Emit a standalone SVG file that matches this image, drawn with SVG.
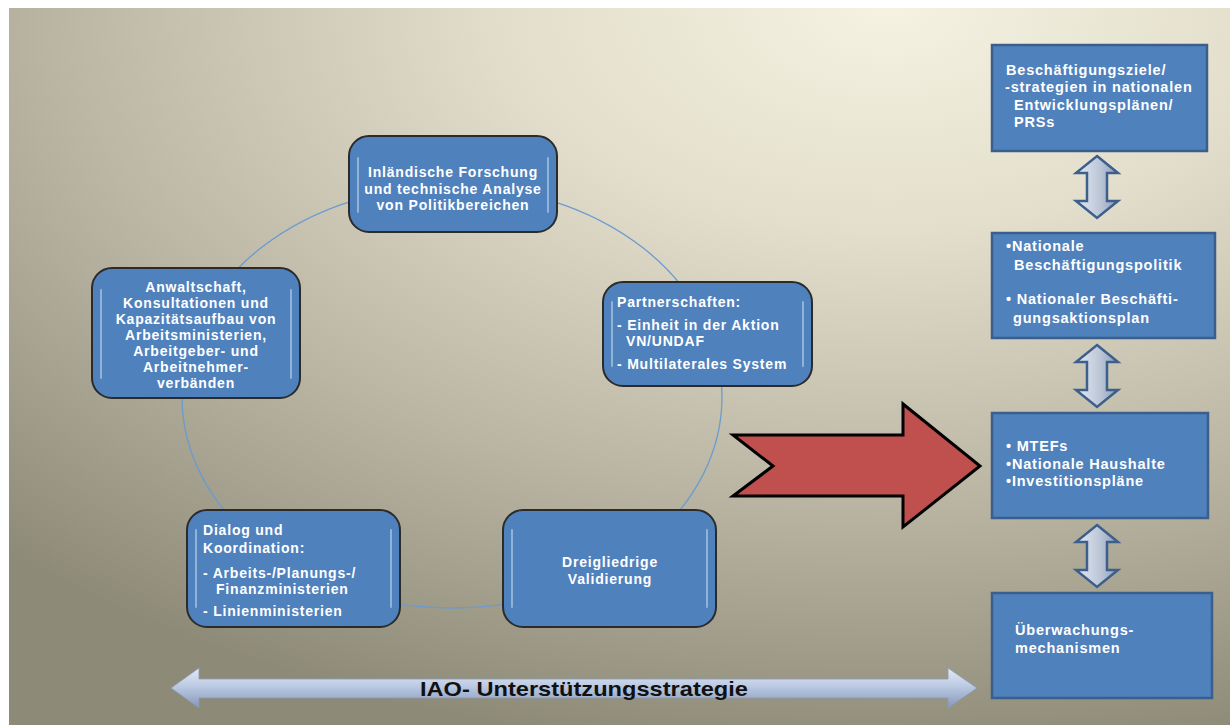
<svg xmlns="http://www.w3.org/2000/svg" width="1230" height="725" viewBox="0 0 1230 725">
<defs>
<radialGradient id="bg" cx="0.72" cy="0" r="1.05" gradientUnits="objectBoundingBox">
<stop offset="0" stop-color="#f6f2e2"/>
<stop offset="0.3" stop-color="#e2decb"/>
<stop offset="0.65" stop-color="#bab6a3"/>
<stop offset="1" stop-color="#8d8a77"/>
</radialGradient>
<linearGradient id="vg" x1="0" y1="0" x2="1" y2="0">
<stop offset="0" stop-color="#e6ebf3"/>
<stop offset="0.6" stop-color="#b9c4d6"/>
<stop offset="1" stop-color="#8c9bb4"/>
</linearGradient>
<linearGradient id="hg" x1="0" y1="0" x2="0" y2="1">
<stop offset="0" stop-color="#e4eaf5"/>
<stop offset="0.45" stop-color="#bccae2"/>
<stop offset="1" stop-color="#8597b9"/>
</linearGradient>
<path id="darr" d="M0,0 L21,17 L10,17 L10,45 L21,45 L0,62 L-21,45 L-10,45 L-10,17 L-21,17 Z"/>
</defs>
<style>
.node{fill:#4f81bd;stroke:#2b2b2b;stroke-width:2}
.gloss{fill:none;stroke:#c9dcf3;stroke-width:2;stroke-opacity:0.55;stroke-linecap:round}
.box{fill:#4f81bd;stroke:#3a5f8c;stroke-width:2.5}
.t{font-family:"Liberation Sans",Arial,sans-serif;font-weight:bold;fill:#ffffff;font-size:14px;letter-spacing:0.8px}
.r{font-size:14.5px}
.c{text-anchor:middle}
.va{fill:url(#vg);stroke:#3d5f8c;stroke-width:2.5;stroke-linejoin:miter}
.conn{fill:none;stroke:#6b9bd1;stroke-width:1.3}
</style>
<rect x="0" y="0" width="1230" height="725" fill="#ffffff"/>
<rect x="9" y="8" width="1221" height="717" fill="url(#bg)"/>

<g id="connectors">
<ellipse class="conn" cx="452" cy="397" rx="270" ry="211"/>
</g>

<g id="node-forschung">
<rect class="node" x="349" y="136" width="208" height="96" rx="20"/>
<path class="gloss" d="M358,158 L358,212 M548,158 L548,212"/>
<text class="t c" x="453" y="177">Inländische Forschung</text>
<text class="t c" x="453" y="193.5">und technische Analyse</text>
<text class="t c" x="453" y="210">von Politikbereichen</text>
</g>

<g id="node-anwaltschaft">
<rect class="node" x="92" y="268" width="208" height="130" rx="20"/>
<path class="gloss" d="M101,290 L101,378 M291,290 L291,378"/>
<text class="t c" x="196" y="292">Anwaltschaft,</text>
<text class="t c" x="196" y="308">Konsultationen und</text>
<text class="t c" x="196" y="324">Kapazitätsaufbau von</text>
<text class="t c" x="196" y="340">Arbeitsministerien,</text>
<text class="t c" x="196" y="356">Arbeitgeber- und</text>
<text class="t c" x="196" y="372">Arbeitnehmer-</text>
<text class="t c" x="196" y="388">verbänden</text>
</g>

<g id="node-partnerschaften">
<rect class="node" x="603" y="282" width="209" height="104" rx="20"/>
<path class="gloss" d="M612,302 L612,366 M803,302 L803,366"/>
<text class="t" x="617" y="307">Partnerschaften:</text>
<text class="t" x="617" y="330">- Einheit in der Aktion</text>
<text class="t" x="626" y="346">VN/UNDAF</text>
<text class="t" x="617" y="369">- Multilaterales System</text>
</g>

<g id="node-dialog">
<rect class="node" x="187" y="510" width="213" height="117" rx="20"/>
<path class="gloss" d="M196,530 L196,607 M391,530 L391,607"/>
<text class="t" x="203" y="535">Dialog und</text>
<text class="t" x="203" y="553">Koordination:</text>
<text class="t" x="203" y="578">- Arbeits-/Planungs-/</text>
<text class="t" x="216" y="594">Finanzministerien</text>
<text class="t" x="203" y="616">- Linienministerien</text>
</g>

<g id="node-validierung">
<rect class="node" x="503" y="510" width="213" height="117" rx="20"/>
<path class="gloss" d="M512,530 L512,607 M707,530 L707,607"/>
<text class="t c" font-size="15" x="610" y="567">Dreigliedrige</text>
<text class="t c" font-size="15" x="610" y="584">Validierung</text>
</g>

<g id="red-arrow">
<path d="M733,435 L903,435 L903,404 L980,466 L903,527 L903,496 L733,496 L773,466 Z" fill="#c0504d" stroke="#000000" stroke-width="3" stroke-linejoin="miter"/>
</g>

<g id="box-ziele">
<rect class="box" x="992" y="45" width="215" height="106"/>
<text class="t r" x="1006" y="75">Beschäftigungsziele/</text>
<text class="t r" x="1005" y="92">-strategien in nationalen</text>
<text class="t r" x="1014" y="110">Entwicklungsplänen/</text>
<text class="t r" x="1014" y="127">PRSs</text>
</g>

<g id="box-politik">
<rect class="box" x="992" y="233" width="223" height="105"/>
<text class="t r" x="1006" y="251">•Nationale</text>
<text class="t r" x="1014" y="270">Beschäftigungspolitik</text>
<text class="t r" x="1006" y="304">• Nationaler Beschäfti-</text>
<text class="t r" x="1013" y="323">gungsaktionsplan</text>
</g>

<g id="box-mtef">
<rect class="box" x="992" y="413" width="216" height="105"/>
<text class="t r" x="1006" y="451">• MTEFs</text>
<text class="t r" x="1006" y="469">•Nationale Haushalte</text>
<text class="t r" x="1006" y="486">•Investitionspläne</text>
</g>

<g id="box-ueberwachung">
<rect class="box" x="992" y="593" width="220" height="105"/>
<text class="t r" x="1015" y="635">Überwachungs-</text>
<text class="t r" x="1015" y="653">mechanismen</text>
</g>

<g id="double-arrows">
<use href="#darr" class="va" transform="translate(1097,156)"/>
<use href="#darr" class="va" transform="translate(1097,345)"/>
<use href="#darr" class="va" transform="translate(1097,525)"/>
</g>

<g id="strategy-arrow">
<path d="M171,688 L199,668 L199,679 L948,679 L948,668 L977,688 L948,708 L948,698 L199,698 L199,708 Z" fill="url(#hg)" stroke="#8a9ab8" stroke-width="0.8"/>
<text x="584" y="696" text-anchor="middle" font-family="'Liberation Sans',Arial,sans-serif" font-weight="bold" font-size="21" textLength="328" lengthAdjust="spacingAndGlyphs" fill="#111111">IAO- Unterstützungsstrategie</text>
</g>
</svg>
